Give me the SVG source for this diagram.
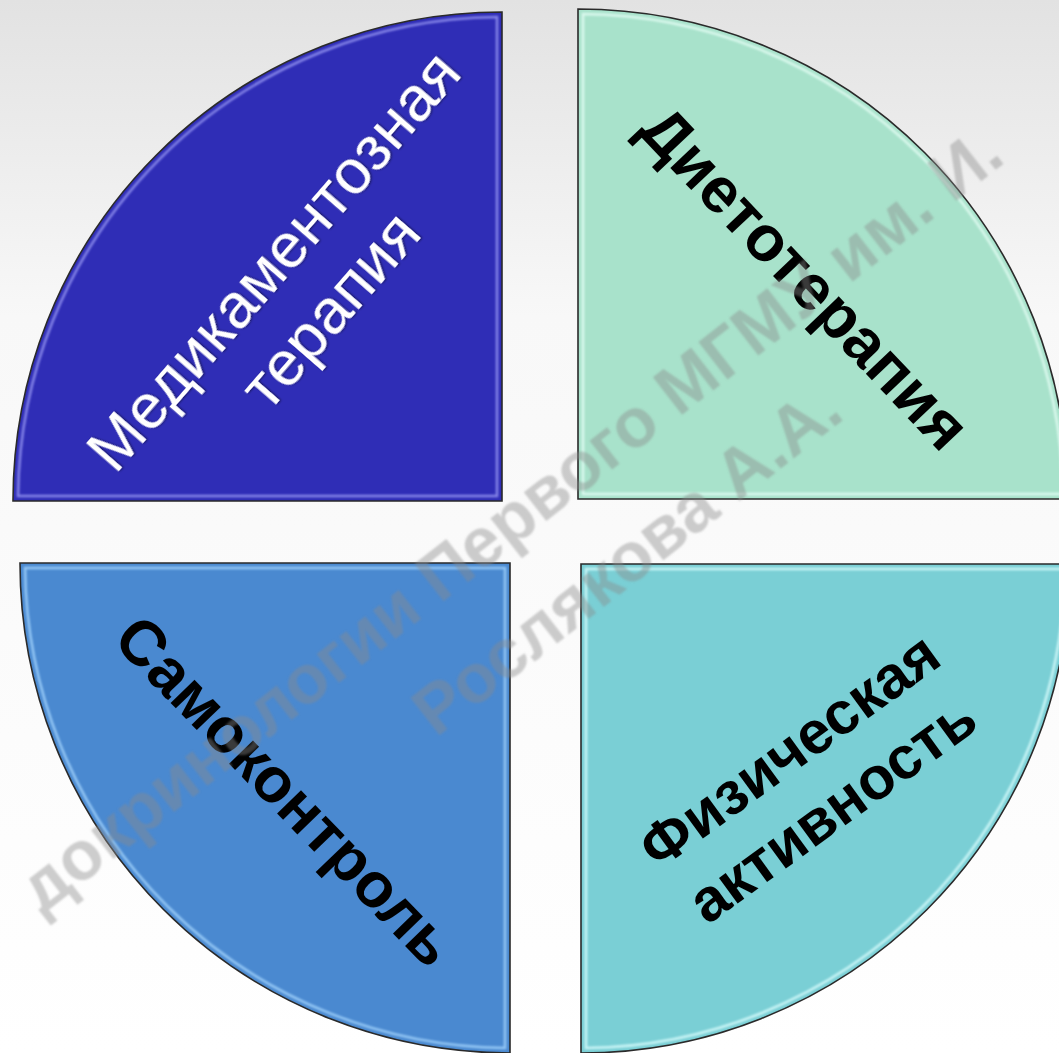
<svg xmlns="http://www.w3.org/2000/svg" width="1059" height="1053" viewBox="0 0 1059 1053">
<style>
.edge{stroke:#2a2a2a;stroke-width:1.6}
.hl{fill:none;stroke-width:2.5;opacity:0.8;filter:url(#soft)}
.lbl{font-family:"Liberation Sans",Arial,sans-serif;text-anchor:middle}
.wlabel{fill:#ffffff;font-size:63px;filter:url(#tshadow)}
.blabel{fill:#000000;font-weight:bold}
.wm{font-family:"Liberation Sans",Arial,sans-serif;font-weight:bold;font-size:69px;fill:#8a8a8a;opacity:0.42}
</style>
<defs>
<linearGradient id="bg" x1="0" y1="0" x2="0" y2="1">
<stop offset="0" stop-color="#e2e2e2"/>
<stop offset="0.3" stop-color="#f8f8f8"/>
<stop offset="1" stop-color="#ffffff"/>
</linearGradient>
<filter id="soft" x="-5%" y="-5%" width="110%" height="110%"><feGaussianBlur stdDeviation="1"/></filter>
<filter id="tshadow" x="-10%" y="-10%" width="120%" height="120%"><feDropShadow dx="1" dy="1" stdDeviation="1" flood-color="#000" flood-opacity="0.5"/></filter>
<filter id="wmblur"><feGaussianBlur stdDeviation="0.8"/></filter>
</defs>
<rect width="1059" height="1053" fill="url(#bg)"/>

<g id="node-medication">
<path class="edge" fill="#2F2DB6" d="M502,501 L13,501 A489,489 0 0 1 502,12 Z"/>
<path class="hl" stroke="#9C9CF5" d="M497,496 L18.03,496 A484,484 0 0 1 497,17.03 Z"/>
<g class="lbl wlabel" transform="translate(300,284) rotate(-49)">
<text x="0" y="-14">Медикаментозная</text>
<text x="0" y="61">терапия</text>
</g>
</g>

<g id="node-diet">
<path class="edge" fill="#A8E2CB" d="M578,499 L578,9 A490,490 0 0 1 1068,499 Z"/>
<path class="hl" stroke="#E8FFF7" d="M583,494 L583,14.03 A485,485 0 0 1 1062.97,494 Z"/>
<text class="lbl blabel" font-size="64" transform="translate(789,293) rotate(46.5)">Диетотерапия</text>
</g>

<g id="node-selfcontrol">
<path class="edge" fill="#4A89D0" d="M510,563 L510,1053 A490,490 0 0 1 20,563 Z"/>
<path class="hl" stroke="#A8D8FF" d="M505,568 L505,1047.97 A485,485 0 0 1 25.03,568 Z"/>
<text class="lbl blabel" font-size="63" transform="translate(270,806) rotate(46)">Самоконтроль</text>
</g>

<g id="node-activity">
<path class="edge" fill="#7ACFD5" d="M581,564 L1070,564 A489,489 0 0 1 581,1053 Z"/>
<path class="hl" stroke="#DFFFFF" d="M586,569 L1064.97,569 A484,484 0 0 1 586,1047.97 Z"/>
<g class="lbl blabel" font-size="60" transform="translate(823,797) rotate(-36)">
<text x="0" y="-37">Физическая</text>
<text x="0" y="36">активность</text>
</g>
</g>

<g id="connectors"></g>

<g id="watermark" filter="url(#wmblur)">
<text class="wm" transform="translate(42,915) rotate(-38)">докринологии Первого МГМУ им. И.</text>
<text class="wm" transform="translate(436,738) rotate(-38)">Рослякова А.А.</text>
</g>
</svg>
